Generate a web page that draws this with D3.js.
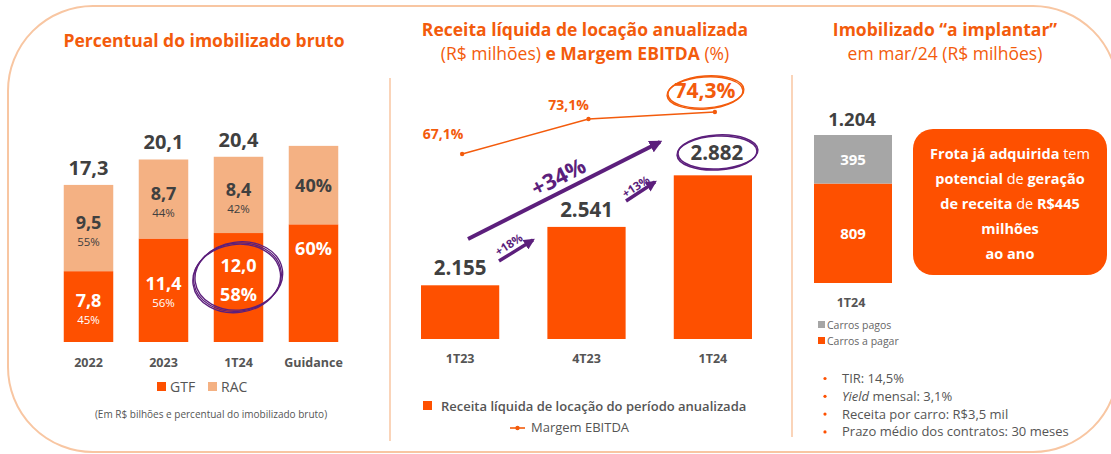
<!DOCTYPE html>
<html>
<head>
<meta charset="utf-8">
<script src="https://cdn.jsdelivr.net/npm/d3@7/dist/d3.min.js"></script>
<style>
  body { margin: 0; background: #fff; }
  text { font-family: "Open Sans", sans-serif; }
</style>
</head>
<body>
<div id="chart"></div>
<script>
// ---- data ----
var fleetCats = ["2022", "2023", "1T24", "Guidance"];
var gtfValues = [7.8, 11.4, 12.0, null];
var racValues = [9.5, 8.7, 8.4, null];
var totalValues = [17.3, 20.1, 20.4, null];
var gtfPct = ["45%", "56%", "58%", "60%"];
var racPct = ["55%", "44%", "42%", "40%"];
var guidanceTotal = 21.6; // guidance bar is drawn at this height
var guidanceGtfShare = 0.6;

var revCats = ["1T23", "4T23", "1T24"];
var revValues = [2155, 2541, 2882];
var ebitdaMargin = [67.1, 73.1, 74.3];
var growthLabels = ["+18%", "+13%", "+34%"];

var implCat = ["1T24"];
var carrosPagos = [395];
var carrosAPagar = [809];

var bullets = ["TIR: 14,5%", "Yield mensal: 3,1%", "Receita por carro: R$3,5 mil", "Prazo médio dos contratos: 30 meses"];

var width = 1111;
var height = 454;

var orange = "#fe5000";
var peach = "#f4b183";
var titleOrange = "#f35b0c";
var dark = "#404040";
var purple = "#5c1f7c";
var grayBar = "#a6a6a6";
var border = "#f8c6a2";

var svg = d3.select("#chart").append("svg")
  .attr("width", width)
  .attr("height", height);

// outer rounded frame and separators
svg.append("rect")
  .attr("x", 8).attr("y", 6)
  .attr("width", 1110).attr("height", 446)
  .attr("rx", 85).attr("ry", 85)
  .attr("fill", "none")
  .attr("stroke", border)
  .attr("stroke-width", 2);

[[390, 78, 441], [792, 75, 437]].forEach(function(s) {
  svg.append("line")
    .attr("x1", s[0]).attr("x2", s[0])
    .attr("y1", s[1]).attr("y2", s[2])
    .attr("stroke", border).attr("stroke-width", 1.5);
});

// ================= Panel 1 =================
var p1 = svg.append("g");

p1.append("text")
  .attr("x", 204).attr("y", 47)
  .attr("text-anchor", "middle")
  .attr("font-size", 17.5).attr("font-weight", "bold")
  .attr("fill", titleOrange)
  .text("Percentual do imobilizado bruto");

var x1 = d3.scaleBand().domain(fleetCats).range([51, 351]).paddingInner(0.34).paddingOuter(0.17);
var y1 = d3.scaleLinear().domain([0, 20]).range([342, 160.4]);

fleetCats.forEach(function(c, i) {
  var bx = x1(c), bw = x1.bandwidth();
  var tot = totalValues[i] != null ? totalValues[i] : guidanceTotal;
  var gtf = gtfValues[i] != null ? gtfValues[i] : guidanceTotal * guidanceGtfShare;
  var cx = bx + bw / 2;

  p1.append("rect")
    .attr("x", bx).attr("width", bw)
    .attr("y", y1(gtf)).attr("height", y1(0) - y1(gtf))
    .attr("fill", orange);
  p1.append("rect")
    .attr("x", bx).attr("width", bw)
    .attr("y", y1(tot)).attr("height", y1(gtf) - y1(tot))
    .attr("fill", peach);

  var gMid = (y1(gtf) + y1(0)) / 2;
  var rMid = (y1(tot) + y1(gtf)) / 2;

  if (totalValues[i] != null) {
    p1.append("text")
      .attr("x", cx).attr("y", y1(tot) - 10)
      .attr("text-anchor", "middle")
      .attr("font-size", 20).attr("font-weight", "bold")
      .attr("fill", dark)
      .text(d3.format(".1f")(totalValues[i]).replace(".", ","));

    var big = i === 2;
    p1.append("text")
      .attr("x", cx).attr("y", big ? gMid - 16 : gMid)
      .attr("text-anchor", "middle")
      .attr("font-size", 18).attr("font-weight", "bold")
      .attr("fill", "#fff")
      .text(d3.format(".1f")(gtfValues[i]).replace(".", ","));
    p1.append("text")
      .attr("x", cx).attr("y", big ? gMid + 13 : gMid + 17)
      .attr("text-anchor", "middle")
      .attr("font-size", big ? 18 : 11.5).attr("font-weight", big ? "bold" : "normal")
      .attr("fill", "#fff")
      .text(gtfPct[i]);

    p1.append("text")
      .attr("x", cx).attr("y", rMid + 1)
      .attr("text-anchor", "middle")
      .attr("font-size", 18).attr("font-weight", "bold")
      .attr("fill", dark)
      .text(d3.format(".1f")(racValues[i]).replace(".", ","));
    p1.append("text")
      .attr("x", cx).attr("y", rMid + 18)
      .attr("text-anchor", "middle")
      .attr("font-size", 11.5)
      .attr("fill", dark)
      .text(racPct[i]);
  } else {
    p1.append("text")
      .attr("x", cx).attr("y", rMid + 7)
      .attr("text-anchor", "middle")
      .attr("font-size", 18).attr("font-weight", "bold")
      .attr("fill", dark)
      .text(racPct[i]);
    p1.append("text")
      .attr("x", cx).attr("y", y1(gtf) + 31)
      .attr("text-anchor", "middle")
      .attr("font-size", 18).attr("font-weight", "bold")
      .attr("fill", "#fff")
      .text(gtfPct[i]);
  }

  p1.append("text")
    .attr("x", cx).attr("y", 367)
    .attr("text-anchor", "middle")
    .attr("font-size", 12.5).attr("font-weight", "bold")
    .attr("fill", "#555")
    .text(c);
});

// hand drawn circle on 1T24 GTF
var c1x = x1("1T24") + x1.bandwidth() / 2;
[[0, 0], [1.5, -1], [-1, 1.2]].forEach(function(o) {
  p1.append("ellipse")
    .attr("cx", c1x - 1 + o[0]).attr("cy", 277 + o[1])
    .attr("rx", 44).attr("ry", 34)
    .attr("transform", "rotate(-8," + c1x + ",277)")
    .attr("fill", "none").attr("stroke", purple)
    .attr("stroke-width", 1.3);
});

// legend
var leg1 = p1.append("g");
leg1.append("rect").attr("x", 157).attr("y", 382).attr("width", 9).attr("height", 9).attr("fill", orange);
leg1.append("text").attr("x", 170).attr("y", 392).attr("font-size", 14).attr("fill", "#555").text("GTF");
leg1.append("rect").attr("x", 208).attr("y", 382).attr("width", 9).attr("height", 9).attr("fill", peach);
leg1.append("text").attr("x", 221).attr("y", 392).attr("font-size", 14).attr("fill", "#555").text("RAC");

p1.append("text")
  .attr("x", 211).attr("y", 418)
  .attr("text-anchor", "middle")
  .attr("font-size", 10)
  .attr("fill", "#555")
  .text("(Em R$ bilhões e percentual do imobilizado bruto)");

// ================= Panel 2 =================
var p2 = svg.append("g");

p2.append("text")
  .attr("x", 585).attr("y", 36)
  .attr("text-anchor", "middle")
  .attr("font-size", 17.5).attr("font-weight", "bold")
  .attr("fill", titleOrange)
  .text("Receita líquida de locação anualizada");

var t2 = p2.append("text")
  .attr("x", 585).attr("y", 60)
  .attr("text-anchor", "middle")
  .attr("font-size", 17.5)
  .attr("fill", titleOrange);
t2.append("tspan").text("(R$ milhões) ");
t2.append("tspan").attr("font-weight", "bold").text("e Margem EBITDA");
t2.append("tspan").text(" (%)");

var x2 = d3.scaleBand().domain(revCats).range([421, 752]).paddingInner(0.381).paddingOuter(0);
var y2 = d3.scaleLinear().domain([1800, 2900]).range([339, 172.6]);
var yM = d3.scaleLinear().domain([67.1, 74.3]).range([154, 112]);

revCats.forEach(function(c, i) {
  var bx = x2(c), bw = x2.bandwidth();
  var cx = bx + bw / 2;
  p2.append("rect")
    .attr("x", bx).attr("width", bw)
    .attr("y", y2(revValues[i])).attr("height", y2(1800) - y2(revValues[i]))
    .attr("fill", orange);
  p2.append("text")
    .attr("x", cx + (i === 2 ? 4 : 0)).attr("y", y2(revValues[i]) - (i === 2 ? 15 : 10))
    .attr("text-anchor", "middle")
    .attr("font-size", 20.5).attr("font-weight", "bold")
    .attr("fill", dark)
    .text(d3.format(",")(revValues[i]).replace(",", "."));
  p2.append("text")
    .attr("x", cx).attr("y", 363)
    .attr("text-anchor", "middle")
    .attr("font-size", 12.5).attr("font-weight", "bold")
    .attr("fill", "#555")
    .text(c);
});

// EBITDA margin line
var lineX = function(i) { return x2(revCats[i]) + x2.bandwidth() / 2 + 2; };
var line = d3.line()
  .x(function(d, i) { return lineX(i); })
  .y(function(d) { return yM(d); });
p2.append("path")
  .datum(ebitdaMargin)
  .attr("d", line)
  .attr("fill", "none")
  .attr("stroke", titleOrange)
  .attr("stroke-width", 1.6);
p2.selectAll(".mdot").data(ebitdaMargin).enter().append("circle")
  .attr("cx", function(d, i) { return lineX(i); })
  .attr("cy", function(d) { return yM(d); })
  .attr("r", 2.2)
  .attr("fill", titleOrange);
var mOff = [[-19, -15], [-20, -9], [-10, -14]];
ebitdaMargin.forEach(function(d, i) {
  p2.append("text")
    .attr("x", lineX(i) + mOff[i][0]).attr("y", yM(d) + mOff[i][1])
    .attr("text-anchor", "middle")
    .attr("font-size", i === 2 ? 21 : 14).attr("font-weight", "bold")
    .attr("fill", titleOrange)
    .text(d3.format(".1f")(d).replace(".", ",") + "%");
});
// hand drawn ring around last margin
[[0, 0], [1, -1]].forEach(function(o) {
  p2.append("ellipse")
    .attr("cx", 705 + o[0]).attr("cy", 93 + o[1])
    .attr("rx", 38).attr("ry", 16)
    .attr("transform", "rotate(-4,705,93)")
    .attr("fill", "none").attr("stroke", titleOrange).attr("stroke-width", 1.4);
});
// hand drawn ring around last revenue
[[0, 0], [1, -1]].forEach(function(o) {
  p2.append("ellipse")
    .attr("cx", 717 + o[0]).attr("cy", 153 + o[1])
    .attr("rx", 40).attr("ry", 17)
    .attr("transform", "rotate(-3,717,153)")
    .attr("fill", "none").attr("stroke", purple).attr("stroke-width", 1.5);
});

// growth arrows
var defs = svg.append("defs");
defs.append("marker")
  .attr("id", "arrowP")
  .attr("viewBox", "0 0 10 10")
  .attr("refX", 8).attr("refY", 5)
  .attr("markerWidth", 3.2).attr("markerHeight", 3.2)
  .attr("orient", "auto")
  .append("path").attr("d", "M0,0 L10,5 L0,10 z").attr("fill", purple);

function arrow(xA, yA, xB, yB, w) {
  p2.append("line")
    .attr("x1", xA).attr("y1", yA).attr("x2", xB).attr("y2", yB)
    .attr("stroke", purple).attr("stroke-width", w)
    .attr("marker-end", "url(#arrowP)");
}
function rotLabel(txt, x, y, ang, size) {
  p2.append("text")
    .attr("transform", "translate(" + x + "," + y + ") rotate(" + ang + ")")
    .attr("text-anchor", "middle")
    .attr("font-size", size).attr("font-weight", "bold")
    .attr("fill", purple)
    .text(txt);
}
arrow(468, 239, 660, 142, 4);
rotLabel(growthLabels[2], 562, 184, -27, 22);
arrow(499, 261, 533, 240, 3.5);
rotLabel(growthLabels[0], 511, 248, -33, 11.5);
arrow(626, 201, 655, 182, 3.5);
rotLabel(growthLabels[1], 638, 190, -33, 11.5);

// legend
p2.append("rect").attr("x", 423).attr("y", 401).attr("width", 9).attr("height", 9).attr("fill", orange);
p2.append("text").attr("x", 441).attr("y", 411)
  .attr("font-size", 13).attr("font-weight", 600).attr("fill", "#555")
  .text("Receita líquida de locação do período anualizada");
p2.append("line").attr("x1", 510).attr("x2", 525).attr("y1", 428).attr("y2", 428)
  .attr("stroke", titleOrange).attr("stroke-width", 1.6);
p2.append("circle").attr("cx", 517.5).attr("cy", 428).attr("r", 2.2).attr("fill", titleOrange);
p2.append("text").attr("x", 531).attr("y", 432)
  .attr("font-size", 13).attr("fill", "#555")
  .text("Margem EBITDA");

// ================= Panel 3 =================
var p3 = svg.append("g");

p3.append("text")
  .attr("x", 945).attr("y", 36)
  .attr("text-anchor", "middle")
  .attr("font-size", 17.5).attr("font-weight", "bold")
  .attr("fill", titleOrange)
  .text("Imobilizado “a implantar”");
p3.append("text")
  .attr("x", 945).attr("y", 60)
  .attr("text-anchor", "middle")
  .attr("font-size", 17.5)
  .attr("fill", titleOrange)
  .text("em mar/24 (R$ milhões)");

var x3 = d3.scaleBand().domain(implCat).range([814, 892]);
var y3 = d3.scaleLinear().domain([0, 1204]).range([283, 135]);

var ib = x3(implCat[0]), iw = x3.bandwidth(), icx = ib + iw / 2;
var implTotal = carrosPagos[0] + carrosAPagar[0];
p3.append("rect")
  .attr("x", ib).attr("width", iw)
  .attr("y", y3(carrosAPagar[0])).attr("height", y3(0) - y3(carrosAPagar[0]))
  .attr("fill", orange);
p3.append("rect")
  .attr("x", ib).attr("width", iw)
  .attr("y", y3(implTotal)).attr("height", y3(carrosAPagar[0]) - y3(implTotal))
  .attr("fill", grayBar);
p3.append("text")
  .attr("x", icx).attr("y", (y3(carrosAPagar[0]) + y3(0)) / 2 + 6)
  .attr("text-anchor", "middle").attr("font-size", 15).attr("font-weight", "bold")
  .attr("fill", "#fff").text(carrosAPagar[0]);
p3.append("text")
  .attr("x", icx).attr("y", (y3(implTotal) + y3(carrosAPagar[0])) / 2 + 6)
  .attr("text-anchor", "middle").attr("font-size", 15).attr("font-weight", "bold")
  .attr("fill", "#fff").text(carrosPagos[0]);
p3.append("text")
  .attr("x", icx - 1).attr("y", y3(implTotal) - 9)
  .attr("text-anchor", "middle").attr("font-size", 18.5).attr("font-weight", "bold")
  .attr("fill", dark).text(d3.format(",")(implTotal).replace(",", "."));
p3.append("text")
  .attr("x", icx - 2).attr("y", 307)
  .attr("text-anchor", "middle").attr("font-size", 12.5).attr("font-weight", "bold")
  .attr("fill", "#555").text(implCat[0]);

// legend
p3.append("rect").attr("x", 818).attr("y", 321).attr("width", 7).attr("height", 7).attr("fill", grayBar);
p3.append("text").attr("x", 827).attr("y", 329).attr("font-size", 10.5).attr("fill", "#666").text("Carros pagos");
p3.append("rect").attr("x", 818).attr("y", 337).attr("width", 7).attr("height", 7).attr("fill", orange);
p3.append("text").attr("x", 827).attr("y", 345).attr("font-size", 10.5).attr("fill", "#666").text("Carros a pagar");

// callout box
p3.append("rect")
  .attr("x", 913).attr("y", 129)
  .attr("width", 194).attr("height", 146)
  .attr("rx", 20).attr("ry", 20)
  .attr("fill", orange);
var boxLines = [
  [["Frota já adquirida", true], [" tem", false]],
  [["potencial", true], [" de ", false], ["geração", true]],
  [["de receita", true], [" de ", false], ["R$445", true]],
  [["milhões", true]],
  [["ao ano", true]]
];
boxLines.forEach(function(parts, i) {
  var t = p3.append("text")
    .attr("x", 1010).attr("y", 159 + i * 25)
    .attr("text-anchor", "middle")
    .attr("font-size", 14.5)
    .attr("fill", "#fff");
  parts.forEach(function(p) {
    t.append("tspan").attr("font-weight", p[1] ? "bold" : "normal").text(p[0]);
  });
});

// bullets
bullets.forEach(function(b, i) {
  var by = 383 + i * 17.8;
  p3.append("circle").attr("cx", 825).attr("cy", by - 4.5).attr("r", 1.6).attr("fill", orange);
  var t = p3.append("text").attr("x", 842).attr("y", by)
    .attr("font-size", 13).attr("fill", "#555");
  if (b.indexOf("Yield") === 0) {
    t.append("tspan").attr("font-style", "italic").text("Yield");
    t.append("tspan").text(b.slice(5));
  } else {
    t.text(b);
  }
});
</script>
</body>
</html>
